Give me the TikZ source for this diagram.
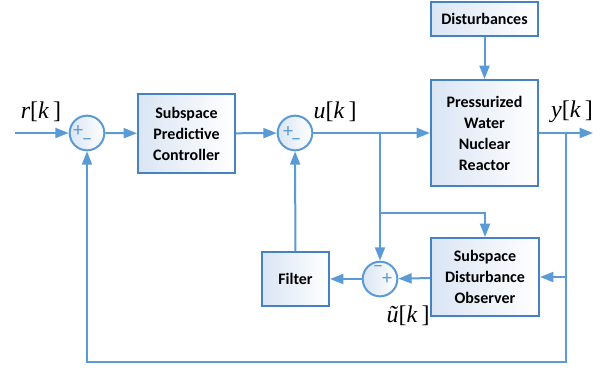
\documentclass[tikz,border=0pt]{standalone}
\usepackage{fontspec}
\setsansfont{Carlito}
\newfontfamily\sigfont{Liberation Serif}
\usetikzlibrary{arrows.meta,positioning}

\definecolor{linkblue}{RGB}{91,155,213}
\definecolor{edgeblue}{RGB}{70,130,195}
\definecolor{paleblue}{RGB}{218,229,244}

\begin{document}
\begin{tikzpicture}[x=0.75pt,y=-0.75pt,
		block/.style={draw=edgeblue, line width=1.5pt, left color=paleblue, right color=white,
			align=center, inner sep=0pt, font=\sffamily\bfseries\fontsize{12}{15.75}\selectfont},
		sumnode/.style={circle, draw=linkblue, line width=1.5pt, left color=paleblue, right color=white,
			minimum size=26pt, inner sep=0pt},
		sign/.style={text=linkblue, inner sep=0pt, font=\sffamily\fontsize{15}{15}\selectfont},
		link/.style={draw=linkblue, line width=1.5pt},
		flow/.style={link, -{Triangle[length=10pt,width=7.5pt]}},
		sig/.style={inner sep=0pt, font=\sigfont\fontsize{18}{20}\selectfont}
	]

		\useasboundingbox (0,0) rectangle (605,371);

		% blocks
		\node[block, minimum width=72.75pt, minimum height=59.25pt] (ctrl) at (186.5,133.5)
			{Subspace\\Predictive\\Controller};
		\node[block, minimum width=80.25pt, minimum height=79.5pt] (plant) at (484.5,133)
			{Pressurized\\Water\\Nuclear\\Reactor};
		\node[block, minimum width=80.25pt, minimum height=25.5pt] (dist) at (484.5,19)
			{Disturbances};
		\node[block, minimum width=81pt, minimum height=58.5pt] (obs) at (485,277)
			{Subspace\\Disturbance\\Observer};
		\node[block, minimum width=50.25pt, minimum height=40.5pt] (filt) at (295.5,279)
			{Filter};

		% summing junctions
		\node[sumnode] (s1) at (87,133) {};
		\node[sumnode] (s2) at (295,133) {};
		\node[sumnode] (s3) at (380,279) {};
		\node[sign] at ([shift={(-9,-2)}]s1.center) {+};
		\node[sign] at ([shift={(0,9)}]s1.center) {\textminus};
		\node[sign] at ([shift={(-7,-1)}]s2.center) {+};
		\node[sign] at ([shift={(1,9)}]s2.center) {\textminus};
		\node[sign] at ([shift={(-2,-10)}]s3.center) {\textminus};
		\node[sign] at ([shift={(7,0)}]s3.center) {+};

		% signals
		\node[sig] (rk) at (41,112) {\textit{r}[\textit{k}\,]};
		\node[sig] (uk) at (335,112) {\textit{u}[\textit{k}\,]};
		\node[sig] (yk) at (572,112) {\textit{y}[\textit{k}\,]};
		\node[sig] (utk) at (408,316) {\textit{ũ}[\textit{k}\,]};

		% branch points
		\coordinate (in) at (15,133);
		\coordinate (ju) at (380,133);
		\coordinate (tap) at (380,213);
		\coordinate (jy) at (566,133);
		\coordinate (out) at (593,133);
		\coordinate (fb) at (566,362);

		% connectors
		\draw[flow] (in) -- (s1);
		\draw[flow] (s1) -- (ctrl);
		\draw[flow] (ctrl) -- (s2);
		\draw[flow] (s2) -- (plant);
		\draw[flow] (dist) -- (plant);
		\draw[flow] (plant) -- (out);
		\draw[flow] (jy) -- (fb) -| (s1);
		\draw[flow] (obs.east -| jy) -- (obs);
		\draw[flow] (ju) -- (s3);
		\draw[flow] (tap) -| (obs);
		\draw[flow] (obs) -- (s3);
		\draw[flow] (s3) -- (filt);
		\draw[flow] (filt) -- (s2);

	\end{tikzpicture}
\end{document}
